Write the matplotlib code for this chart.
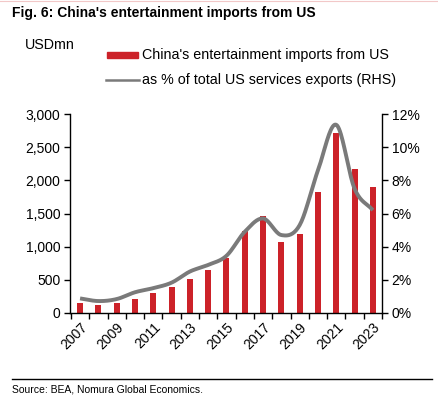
import numpy as np
import matplotlib
matplotlib.use("Agg")
import matplotlib.pyplot as plt
from matplotlib.patches import Rectangle
from matplotlib.lines import Line2D

plt.rcParams['font.family'] = ['Liberation Sans', 'DejaVu Sans']

years = list(range(2007, 2024))
imports_usdmn = [150, 115, 145, 215, 306, 386, 517, 652, 833, 1234, 1455, 1074, 1184, 1821, 2710, 2168, 1907]
share_pct = [0.88, 0.72, 0.84, 1.25, 1.5, 1.83, 2.5, 2.9, 3.45, 4.9, 5.7, 4.7, 5.3, 8.6, 11.35, 7.5, 6.2]
left_ticks = [0, 500, 1000, 1500, 2000, 2500, 3000]
right_ticks = [0, 2, 4, 6, 8, 10, 12]

title = "Fig. 6: China's entertainment imports from US"
unit_label = "USDmn"
bar_label = "China's entertainment imports from US"
line_label = "as % of total US services exports (RHS)"
source = "Source: BEA, Nomura Global Economics."

bar_color = '#cc2229'
line_color = '#7a7a7a'

W, H = 439, 399
fig = plt.figure(figsize=(W/100, H/100), dpi=100)
ax = fig.add_axes([70/W, 1-313/H, (382-70)/W, (313-114)/H])

x = np.arange(len(years))
ax.bar(x, imports_usdmn, width=0.33, color=bar_color, zorder=2)
ax.set_xlim(-0.55, len(years)-0.5)
ax.set_ylim(0, 3000)
ax.set_yticks(left_ticks)
ax.set_yticklabels([f"{v:,}" for v in left_ticks], fontsize=10)
ax.set_xticks(x[::2])
ax.set_xticklabels([str(y) for y in years[::2]], rotation=45, ha='right',
                   rotation_mode='anchor', fontsize=10)
ax.tick_params(axis='x', length=0, pad=5)
ax.set_xticks(np.arange(-0.5, len(years), 1.0), minor=True)
ax.tick_params(axis='x', which='minor', length=4, width=1, direction='out')
ax.tick_params(axis='y', length=4, width=1, direction='out', pad=3)
ax.spines['top'].set_visible(False)
ax.spines['right'].set_visible(False)
for s in ['left', 'bottom']:
    ax.spines[s].set_linewidth(1)

# smooth line via Catmull-Rom
def catmull(xs, ys, n=20):
    xs = np.asarray(xs, float); ys = np.asarray(ys, float)
    px = np.concatenate([[2*xs[0]-xs[1]], xs, [2*xs[-1]-xs[-2]]])
    py = np.concatenate([[2*ys[0]-ys[1]], ys, [2*ys[-1]-ys[-2]]])
    ox, oy = [], []
    for i in range(1, len(px)-2):
        t = np.linspace(0, 1, n, endpoint=False)
        for arr, out in ((px, ox), (py, oy)):
            p0, p1, p2, p3 = arr[i-1], arr[i], arr[i+1], arr[i+2]
            out.extend(0.5*((2*p1) + (-p0+p2)*t + (2*p0-5*p1+4*p2-p3)*t**2 + (-p0+3*p1-3*p2+p3)*t**3))
    ox.append(xs[-1]); oy.append(ys[-1])
    return np.array(ox), np.array(oy)

ax2 = ax.twinx()
sx, sy = catmull(x, share_pct)
ax2.plot(sx, sy, color=line_color, lw=2.8, zorder=3, solid_capstyle='butt')
ax2.set_ylim(0, 12)
ax2.set_yticks(right_ticks)
ax2.set_yticklabels([f"{v}%" for v in right_ticks], fontsize=10)
ax2.tick_params(axis='y', length=4, width=1, direction='out', pad=3)
for s in ['top', 'left', 'bottom']:
    ax2.spines[s].set_visible(False)
ax2.spines['right'].set_linewidth(1)

# title & labels
fig.text(12/W, 1-13/H, title, fontsize=10, fontweight='bold', va='center', ha='left')
fig.add_artist(Line2D([0, 1], [1-0.5/H, 1-0.5/H], color='#f2c8c8', lw=0.8))
fig.text(25/W, 1-45/H, unit_label, fontsize=10.3, va='center', ha='left')

# legend
fig.add_artist(Rectangle((107/W, 1-57.5/H), 31/W, 5/H, color=bar_color, transform=fig.transFigure))
fig.text(142/W, 1-55/H, bar_label, fontsize=10.3, va='center', ha='left')
fig.add_artist(Line2D([106/W, 139/W], [1-80/H, 1-80/H], color=line_color, lw=1.8))
fig.text(142/W, 1-80/H, line_label, fontsize=10.3, va='center', ha='left')

# source
fig.add_artist(Line2D([12/W, 432/W], [1-379/H, 1-379/H], color='black', lw=1))
fig.text(12/W, 1-389/H, source, fontsize=7.5, va='center', ha='left')

fig.savefig('out.png', dpi=100)
